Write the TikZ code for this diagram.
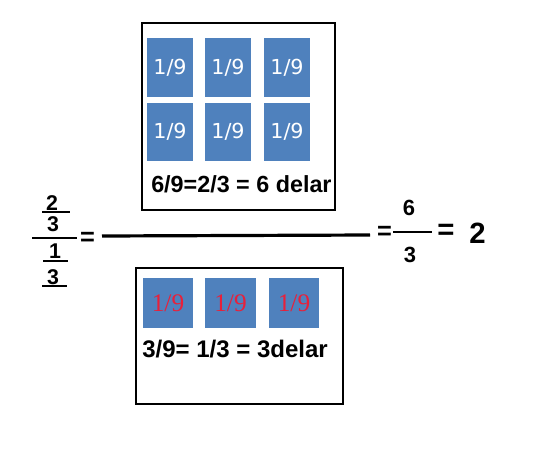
\documentclass[tikz,border=0pt]{standalone}
\usepackage{fontspec}
\setmainfont{Liberation Sans}
\newfontfamily\boldsans{Liberation Sans Bold}
\newfontfamily\tilefont{DejaVu Sans}
\newfontfamily\redfont{Liberation Serif}
\usetikzlibrary{positioning, calc}
\definecolor{tileblue}{HTML}{4F81BD}
\definecolor{tilered}{HTML}{E8203A}

\begin{document}
\begin{tikzpicture}[x=0.75pt, y=-0.75pt,
  tile/.style={fill=tileblue, inner sep=0pt, text=white, font=\tilefont\fontsize{15.5}{15.5}\selectfont, minimum width=35pt, minimum height=44pt},
  redtile/.style={fill=tileblue, inner sep=0pt, text=tilered, font=\redfont\fontsize{19}{19}\selectfont, minimum width=38pt, minimum height=37.5pt},
  num/.style={font=\boldsans\fontsize{16}{16}\selectfont, inner sep=0pt},
  bignum/.style={font=\boldsans\fontsize{22}{22}\selectfont, inner sep=0pt},
  caption/.style={font=\boldsans\fontsize{17.5}{17.5}\selectfont, inner sep=0pt, anchor=base west},
  bar/.style={line width=2.2pt}]
\useasboundingbox (0,0) rectangle (557,454);

% top box: six ninths
\node[draw, line width=2.2pt, minimum width=144.75pt, minimum height=140.25pt] (top) at (238.5,116.5) {};
\node[tile] (t1) at (170,67.5) {1/9};
\node[tile] (t2) at (228,67.5) {1/9};
\node[tile] (t3) at (287,67.5) {1/9};
\node[tile] (t4) at (170,132) {1/9};
\node[tile] (t5) at (228,132) {1/9};
\node[tile] (t6) at (287,132) {1/9};
\node[caption] (topcap) at (151,192) {6/9=2/3 = 6 delar};

% bottom box: three ninths
\node[draw, line width=2pt, minimum width=155.25pt, minimum height=102pt] (bot) at (239.5,336) {};
\node[redtile] (b1) at (168,303) {1/9};
\node[redtile] (b2) at (230.5,303) {1/9};
\node[redtile] (b3) at (294,303) {1/9};
\node[caption, font=\boldsans\fontsize{18}{18}\selectfont] (botcap) at (142,357) {3/9= 1/3 = 3delar};

% left double fraction
\node[num] (n2) at (52,203) {2};
\node[num] (n3) at (53,224) {3};
\node[num] (n1) at (55,251) {1};
\node[num] (n3b) at (53,277) {3};
\coordinate (u2a) at (42,212); \coordinate (u2b) at (70,212);
\coordinate (ma) at (32,238); \coordinate (mb) at (77,238);
\coordinate (u1a) at (43,261); \coordinate (u1b) at (68,261);
\coordinate (u3a) at (42,286); \coordinate (u3b) at (67,286);
\draw[line width=1.6pt] (u2a) -- (u2b);
\draw[bar] (ma) -- (mb);
\draw[line width=1.6pt] (u1a) -- (u1b);
\draw[line width=1.6pt] (u3a) -- (u3b);
\node[num, font=\boldsans\fontsize{19}{19}\selectfont] (eq1) at (87.5,238.5) {=};

% long fraction bar
\coordinate (la) at (102,236); \coordinate (lb) at (370,235);
\draw[line width=2.4pt] (la) -- (lb);

% right side
\node[num, font=\boldsans\fontsize{19}{19}\selectfont] (eq2) at (384.5,233) {=};
\node[num, font=\boldsans\fontsize{16.5}{16.5}\selectfont] (r6) at (409,208) {6};
\node[num, font=\boldsans\fontsize{16.5}{16.5}\selectfont] (r3) at (410,255) {3};
\coordinate (ra) at (393,232); \coordinate (rb) at (432,232);
\draw[bar] (ra) -- (rb);
\node[bignum] (eq3) at (446,232) {=};
\node[bignum] (res) at (477.5,233) {2};
\end{tikzpicture}
\end{document}
